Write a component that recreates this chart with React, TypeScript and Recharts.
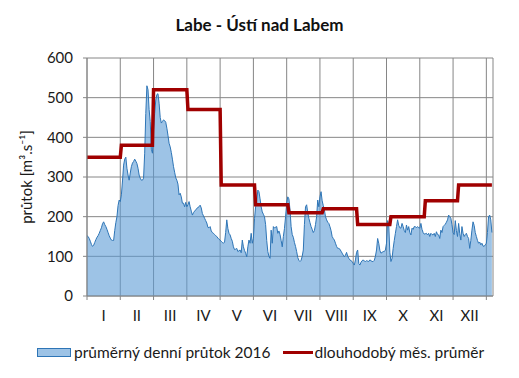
import { Area, CartesianGrid, ComposedChart, Line, XAxis, YAxis, Label } from 'recharts';

// daily mean discharge 2016 [m3/s], one array per month
const jan = [152, 150, 145, 138, 130, 125, 128, 135, 142, 148, 152, 158, 165, 172, 182, 187, 180, 175, 168, 160, 152, 146, 141, 140, 140, 165, 185, 200, 228, 242, 238];
const feb = [255, 290, 330, 345, 350, 322, 305, 292, 310, 326, 335, 339, 345, 340, 334, 322, 305, 297, 292, 292, 297, 360, 460, 530, 520, 470, 440, 370, 360];
const mar = [420, 460, 494, 508, 510, 486, 450, 436, 440, 444, 442, 438, 423, 405, 385, 376, 362, 345, 326, 312, 298, 292, 282, 255, 259, 250, 234, 234, 225, 236, 225];
const apr = [230, 238, 225, 214, 204, 210, 214, 217, 221, 223, 225, 229, 222, 208, 202, 196, 190, 184, 173, 172, 175, 164, 160, 158, 155, 152, 150, 146, 143, 141];
const may = [138, 135, 133, 136, 160, 192, 170, 158, 154, 145, 138, 124, 117, 118, 120, 112, 114, 116, 109, 141, 124, 115, 108, 99, 124, 141, 133, 158, 133, 145, 195];
const jun = [225, 240, 267, 263, 245, 225, 212, 206, 200, 180, 140, 112, 100, 95, 166, 133, 175, 171, 174, 175, 158, 164, 155, 140, 124, 150, 170, 200, 234, 250];
const jul = [245, 217, 175, 155, 148, 135, 125, 112, 97, 90, 87, 90, 100, 116, 180, 225, 230, 210, 196, 185, 175, 168, 160, 165, 180, 200, 242, 225, 250, 263, 240];
const aug = [228, 217, 200, 192, 186, 183, 175, 165, 150, 145, 141, 133, 125, 120, 120, 118, 113, 108, 103, 99, 103, 110, 100, 95, 91, 89, 87, 82, 78, 91, 110];
const sep = [116, 82, 78, 85, 89, 91, 88, 87, 89, 88, 87, 91, 89, 87, 87, 90, 100, 116, 145, 133, 115, 108, 110, 112, 112, 116, 133, 190, 180, 110];
const oct = [87, 95, 120, 140, 158, 175, 192, 178, 172, 171, 183, 175, 165, 160, 179, 166, 175, 160, 154, 171, 168, 175, 175, 172, 175, 172, 171, 183, 168, 160, 156];
const nov = [157, 158, 154, 158, 150, 158, 155, 154, 158, 150, 162, 155, 154, 145, 166, 160, 175, 178, 181, 186, 192, 204, 200, 196, 180, 160, 155, 190, 165, 150];
const dec = [183, 158, 141, 175, 158, 150, 155, 158, 150, 145, 120, 140, 166, 187, 178, 160, 150, 140, 133, 136, 129, 133, 126, 125, 129, 133, 160, 200, 204, 192, 160];

// long-term monthly mean
const monthlyMean = [350, 380, 520, 470, 280, 230, 210, 220, 180, 200, 240, 280];
const months = ['I', 'II', 'III', 'IV', 'V', 'VI', 'VII', 'VIII', 'IX', 'X', 'XI', 'XII'];
const yTicks = [0, 100, 200, 300, 400, 500, 600];
const xTicks = [0, 30, 60, 90, 120, 150, 180, 210, 240, 270, 300, 330, 360];

const byMonth = [jan, feb, mar, apr, may, jun, jul, aug, sep, oct, nov, dec];
const data = byMonth.flatMap((days, m) => days.map((flow) => ({ flow, mean: monthlyMean[m] }))).map((d, i) => ({ day: i, ...d }));

const FONT = 'Lato, "Open Sans", sans-serif';
const GRID = '#868686';

// labels sit between the 30-day tick marks, like Excel does
const MonthTick = (props: any) => {
  const { x, y, payload } = props;
  const idx = Math.round(payload.value / 30);
  if (idx >= months.length) return null;
  return (
    <text x={x + 16.6} y={y + 19} textAnchor="middle" fontSize={15} fontFamily={FONT} fill="#1a1a1a">
      {months[idx]}
    </text>
  );
};

export default function App() {
  return (
    <div style={{ position: 'absolute', left: 0, top: 0, width: 519, height: 378, background: '#fff', fontFamily: FONT }}>
      <div style={{ position: 'absolute', top: 14, width: 519, textAlign: 'center', fontSize: 17, fontWeight: 700, color: '#111' }}>
        Labe - Ústí nad Labem
      </div>
      <ComposedChart width={519} height={378} data={data} margin={{ top: 58, right: 26, bottom: 52, left: 0 }}>
        <CartesianGrid stroke={GRID} strokeWidth={1} />
        <XAxis
          dataKey="day"
          type="number"
          domain={[0, 366]}
          ticks={xTicks}
          interval={0}
          height={30}
          stroke={GRID}
          tickSize={4}
          tick={<MonthTick />}
        />
        <YAxis
          domain={[0, 600]}
          ticks={yTicks}
          width={87}
          stroke={GRID}
          tickSize={4}
          tickMargin={10}
          tick={{ fontSize: 15, fontFamily: FONT, fill: '#1a1a1a' }}
        >
          <Label
            value="průtok [m³.s⁻¹]"
            angle={-90}
            position="insideLeft"
            offset={0}
            dx={27}
            style={{ fontSize: 15, fontFamily: FONT, fill: '#1a1a1a', textAnchor: 'middle' }}
          />
        </YAxis>
        <Area
          dataKey="flow"
          type="linear"
          stroke="#2E75B6"
          strokeWidth={1}
          fill="#5B9BD5"
          fillOpacity={0.6}
          isAnimationActive={false}
        />
        <Line dataKey="mean" type="linear" stroke="#A00000" strokeWidth={3.5} dot={false} isAnimationActive={false} />
      </ComposedChart>
      <div style={{ position: 'absolute', top: 343, left: 37, display: 'flex', alignItems: 'center', fontSize: 15.5, color: '#1a1a1a', whiteSpace: 'nowrap' }}>
        <span style={{ width: 32, height: 7, background: '#9DC3E6', border: '1px solid #2E75B6', marginRight: 3 }} />
        <span>průměrný denní průtok 2016</span>
        <span style={{ width: 30, height: 3, background: '#A00000', marginLeft: 12, marginRight: 2 }} />
        <span>dlouhodobý měs. průměr</span>
      </div>
    </div>
  );
}
